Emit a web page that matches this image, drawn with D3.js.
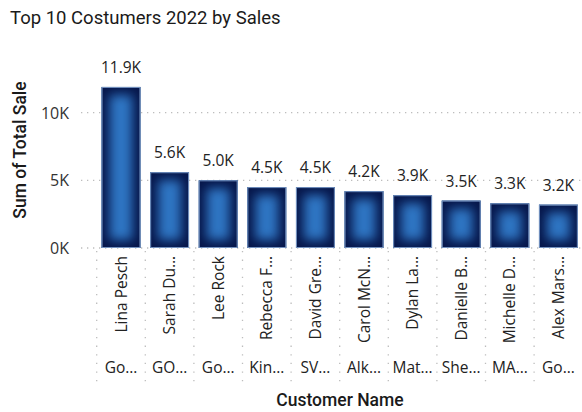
<!DOCTYPE html>
<html>
<head>
<meta charset="utf-8">
<script src="https://cdn.jsdelivr.net/npm/d3@7"></script>
<style>
  html, body { margin: 0; padding: 0; background: #ffffff; }
  svg { display: block; }
</style>
</head>
<body>
<svg id="chart" width="582" height="412"></svg>
<script>
// Top customers and their 2022 sales totals
const customers = ["Lina Pesch", "Sarah Du…", "Lee Rock", "Rebecca F…", "David Gre…",
                   "Carol McN…", "Dylan La…", "Danielle B…", "Michelle D…", "Alex Mars…"];
const companies = ["Go…", "GO…", "Go…", "Kin…", "SV…", "Alk…", "Mat…", "She…", "MA…", "Go…"];
const sales = [11900, 5600, 5000, 4500, 4500, 4200, 3900, 3500, 3300, 3200];
const yTicks = [0, 5000, 10000];

const svg = d3.select("#chart");
const W = 582, H = 412;
const plotTop = 85.6, plotBottom = 248;
const bandLeft = 96.7, bandRight = 582.7;

const x = d3.scaleBand()
  .domain(d3.range(customers.length))
  .range([bandLeft, bandRight])
  .paddingInner(0.2)
  .paddingOuter(0.1);

const y = d3.scaleLinear()
  .domain([0, 12000])
  .range([plotBottom, plotTop]);

const fmtK = v => (v === 0 ? "0" : d3.format(".0f")(v / 1000)) + "K";
const fmtVal = v => d3.format(".1f")(v / 1000) + "K";

// Inner-glow filter for the bars: dark rim fading into a lighter centre
const defs = svg.append("defs");
const f = defs.append("filter").attr("id", "rim")
  .attr("x", 0).attr("y", 0).attr("width", 1).attr("height", 1)
  .attr("color-interpolation-filters", "sRGB");
f.append("feMorphology").attr("in", "SourceAlpha").attr("operator", "erode")
  .attr("radius", 7.5).attr("result", "er");
f.append("feGaussianBlur").attr("in", "er").attr("stdDeviation", 5.5).attr("result", "bl");
f.append("feComposite").attr("in", "SourceAlpha").attr("in2", "bl")
  .attr("operator", "out").attr("result", "edge");
f.append("feFlood").attr("flood-color", "#06164a").attr("result", "col");
f.append("feComposite").attr("in", "col").attr("in2", "edge")
  .attr("operator", "in").attr("result", "shade");
const fm = f.append("feMerge");
fm.append("feMergeNode").attr("in", "SourceGraphic");
fm.append("feMergeNode").attr("in", "shade");

// Title
svg.append("text")
  .attr("x", 10).attr("y", 24)
  .attr("font-family", "Roboto, 'DejaVu Sans', sans-serif")
  .attr("font-size", 18.5)
  .attr("fill", "#1a1a1a")
  .text("Top 10 Costumers 2022 by Sales");

// Horizontal dotted gridlines
svg.append("g")
  .selectAll("line")
  .data(yTicks)
  .join("line")
  .attr("x1", 81).attr("x2", W)
  .attr("y1", d => y(d)).attr("y2", d => y(d))
  .attr("stroke", "#bdbdbd")
  .attr("stroke-width", 1.3)
  .attr("stroke-dasharray", "1.3,4.7");

// Y axis tick labels
const yAxis = d3.axisLeft(y).tickValues(yTicks).tickFormat(fmtK).tickSize(0).tickPadding(0);
const gy = svg.append("g").attr("transform", "translate(69,0)").call(yAxis);
gy.select(".domain").remove();
gy.selectAll("text")
  .attr("font-family", "'Open Sans', 'Noto Sans', sans-serif")
  .attr("font-size", 16)
  .attr("fill", "#333")
  .attr("dy", "0.35em");

// Y axis title
svg.append("text")
  .attr("transform", `translate(26,${150}) rotate(-90)`)
  .attr("text-anchor", "middle")
  .attr("font-family", "Roboto, 'DejaVu Sans', sans-serif")
  .attr("font-size", 17.5)
  .attr("font-weight", 500)
  .attr("fill", "#1a1a1a")
  .text("Sum of Total Sale");

// Category separators (dotted verticals between customers)
const step = x.step();
const seps = d3.range(customers.length + 1).map(i => bandLeft + i * step);
svg.append("g")
  .selectAll("line")
  .data(seps)
  .join("line")
  .attr("x1", d => d).attr("x2", d => d)
  .attr("y1", 251).attr("y2", 383)
  .attr("stroke", "#bdbdbd")
  .attr("stroke-width", 1.3)
  .attr("stroke-dasharray", "1.3,7.3");

// Bars
const bars = svg.append("g");
bars.selectAll("rect.fill")
  .data(sales)
  .join("rect")
  .attr("class", "fill")
  .attr("x", (d, i) => x(i))
  .attr("y", d => y(d))
  .attr("width", x.bandwidth())
  .attr("height", d => y(0) - y(d))
  .attr("fill", "#2f76c4")
  .attr("filter", "url(#rim)");
bars.selectAll("rect.edge")
  .data(sales)
  .join("rect")
  .attr("class", "edge")
  .attr("x", (d, i) => x(i) + 0.5)
  .attr("y", d => y(d) + 0.5)
  .attr("width", x.bandwidth() - 1)
  .attr("height", d => y(0) - y(d) - 1)
  .attr("fill", "none")
  .attr("stroke", "#8fb0dc")
  .attr("stroke-opacity", 0.8)
  .attr("stroke-width", 1);

// Value labels
svg.append("g")
  .selectAll("text")
  .data(sales)
  .join("text")
  .attr("x", (d, i) => x(i) + x.bandwidth() / 2)
  .attr("y", d => y(d) - 14)
  .attr("text-anchor", "middle")
  .attr("font-family", "'Open Sans', 'Noto Sans', sans-serif")
  .attr("font-size", 15.5)
  .attr("fill", "#222")
  .text(fmtVal);

// Customer names, rotated
svg.append("g")
  .selectAll("text")
  .data(customers)
  .join("text")
  .attr("transform", (d, i) => `translate(${x(i) + x.bandwidth() / 2 + 5.5},256) rotate(-90)`)
  .attr("text-anchor", "end")
  .attr("font-family", "'Open Sans', 'Noto Sans', sans-serif")
  .attr("font-size", 15.5)
  .attr("fill", "#222")
  .text(d => d);

// Company (second level) labels
svg.append("g")
  .selectAll("text")
  .data(companies)
  .join("text")
  .attr("x", (d, i) => x(i) + x.bandwidth() / 2)
  .attr("y", 373)
  .attr("text-anchor", "middle")
  .attr("font-family", "'Open Sans', 'Noto Sans', sans-serif")
  .attr("font-size", 15.5)
  .attr("fill", "#222")
  .text(d => d);

// X axis title
svg.append("text")
  .attr("x", 340).attr("y", 406)
  .attr("text-anchor", "middle")
  .attr("font-family", "Roboto, 'DejaVu Sans', sans-serif")
  .attr("font-size", 17.5)
  .attr("font-weight", 500)
  .attr("fill", "#1a1a1a")
  .text("Customer Name");
</script>
</body>
</html>
